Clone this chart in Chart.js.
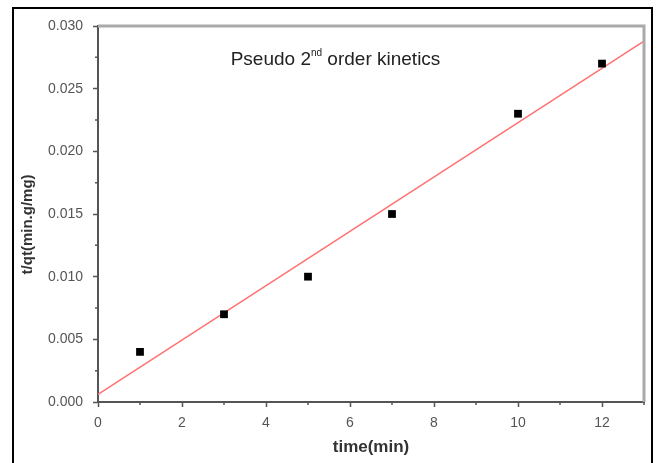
<!DOCTYPE html>
<html>
<head>
<meta charset="utf-8">
<script src="https://cdn.jsdelivr.net/npm/chart.js@4.4.0/dist/chart.umd.min.js"></script>
<style>
  html, body { margin: 0; padding: 0; background: #fff; }
  #wrap { width: 657px; height: 463px; }
</style>
</head>
<body>
<div id="wrap"><canvas id="kineticsChart"></canvas></div>
<script>
// 측정값 (time, t/qt)
const timeMin = [1, 3, 5, 7, 10, 12];
const tOverQt = [0.004, 0.007, 0.010, 0.015, 0.023, 0.027];

// 선형 피팅 직선 양 끝
const fitTime = [0, 13];
const fitValue = [0.0006, 0.0288];

const xMinorTicks = [1, 3, 5, 7, 9, 11, 13];
const yMinorTicks = [0.0025, 0.0075, 0.0125, 0.0175, 0.0225, 0.0275];

const tickFont = {family: 'Liberation Sans, Arial, sans-serif', size: 14};
const axisColor = '#555';

// 바깥 테두리, 위/오른쪽 프레임, 보조 눈금, 제목 텍스트
const framePlugin = {
    id: 'frame',
    beforeDraw(chart) {
        const c = chart.ctx;
        c.save();
        c.strokeStyle = '#000';
        c.lineWidth = 2;
        c.strokeRect(13, 8, 639, 470);
        c.restore();
    },
    afterDraw(chart) {
        const c = chart.ctx;
        const a = chart.chartArea;
        const xs = chart.scales.x, ys = chart.scales.y;
        c.save();
        // top / right frame (light gray)
        c.strokeStyle = '#aaa';
        c.lineWidth = 3;
        c.beginPath();
        c.moveTo(a.left, a.top);
        c.lineTo(a.right, a.top);
        c.lineTo(a.right, a.bottom);
        c.stroke();

        // minor ticks
        c.strokeStyle = axisColor;
        c.lineWidth = 1.5;
        c.beginPath();
        xMinorTicks.forEach(v => {
            const px = xs.getPixelForValue(v);
            c.moveTo(px, a.bottom);
            c.lineTo(px, a.bottom + 3);
        });
        yMinorTicks.forEach(v => {
            const py = ys.getPixelForValue(v);
            c.moveTo(a.left, py);
            c.lineTo(a.left - 3, py);
        });
        c.stroke();

        // 제목: Pseudo 2nd order kinetics
        const cx = a.left + 0.435 * (a.right - a.left);
        const cy = 60;
        const big = '19px Liberation Sans, Arial, sans-serif';
        const small = '10px Liberation Sans, Arial, sans-serif';
        c.fillStyle = '#222';
        c.textBaseline = 'middle';
        c.font = big;
        const w1 = c.measureText('Pseudo 2').width;
        const w3 = c.measureText(' order kinetics').width;
        c.font = small;
        const w2 = c.measureText('nd').width;
        let x0 = cx - (w1 + w2 + w3) / 2;
        c.font = big;
        c.fillText('Pseudo 2', x0, cy);
        c.font = small;
        c.fillText('nd', x0 + w1, cy - 7);
        c.font = big;
        c.fillText(' order kinetics', x0 + w1 + w2, cy);
        c.restore();
    }
};

const ctx = document.getElementById('kineticsChart').getContext('2d');

new Chart(ctx, {
    type: 'scatter',
    data: {
        datasets: [
            {
                label: 'data',
                data: timeMin.map((t, i) => ({x: t, y: tOverQt[i]})),
                pointStyle: 'rect',
                pointRadius: 5.5,
                backgroundColor: '#000',
                borderColor: '#000',
                borderWidth: 0,
                order: 1,
            },
            {
                label: 'fit',
                type: 'line',
                data: fitTime.map((t, i) => ({x: t, y: fitValue[i]})),
                borderColor: '#ff7070',
                borderWidth: 1.5,
                pointRadius: 0,
                fill: false,
                order: 2,
            },
        ],
    },
    options: {
        responsive: true,
        maintainAspectRatio: false,
        animation: false,
        layout: {padding: {left: 15, right: 13, top: 26, bottom: 1}},
        plugins: {
            legend: {display: false},
            tooltip: {enabled: false},
        },
        scales: {
            x: {
                type: 'linear',
                min: 0,
                max: 13,
                ticks: {
                    stepSize: 2,
                    includeBounds: false,
                    padding: 8,
                    color: '#555',
                    font: tickFont,
                },
                grid: {
                    drawOnChartArea: false,
                    drawTicks: true,
                    tickLength: 5,
                    tickWidth: 1.5,
                    tickColor: axisColor,
                },
                border: {display: true, color: axisColor, width: 2},
                title: {
                    display: true,
                    text: 'time(min)',
                    color: '#333',
                    font: {family: 'Liberation Sans, Arial, sans-serif', size: 17, weight: 'bold'},
                    padding: {top: 2, bottom: 4},
                },
                afterFit: (scale) => { scale.height = 60; },
            },
            y: {
                min: 0,
                max: 0.03,
                ticks: {
                    stepSize: 0.005,
                    padding: 10,
                    color: '#555',
                    font: tickFont,
                    callback: (value) => value.toFixed(3),
                },
                grid: {
                    drawOnChartArea: false,
                    drawTicks: true,
                    tickLength: 5,
                    tickWidth: 1.5,
                    tickColor: axisColor,
                },
                border: {display: true, color: axisColor, width: 2},
                title: {
                    display: true,
                    text: 't/qt(min.g/mg)     ',
                    color: '#333',
                    font: {family: 'Liberation Sans, Arial, sans-serif', size: 15, weight: 'bold'},
                    padding: {top: 4, bottom: 4},
                },
                afterFit: (scale) => { scale.width = 83; },
            },
        },
    },
    plugins: [framePlugin],
});
</script>
</body>
</html>
